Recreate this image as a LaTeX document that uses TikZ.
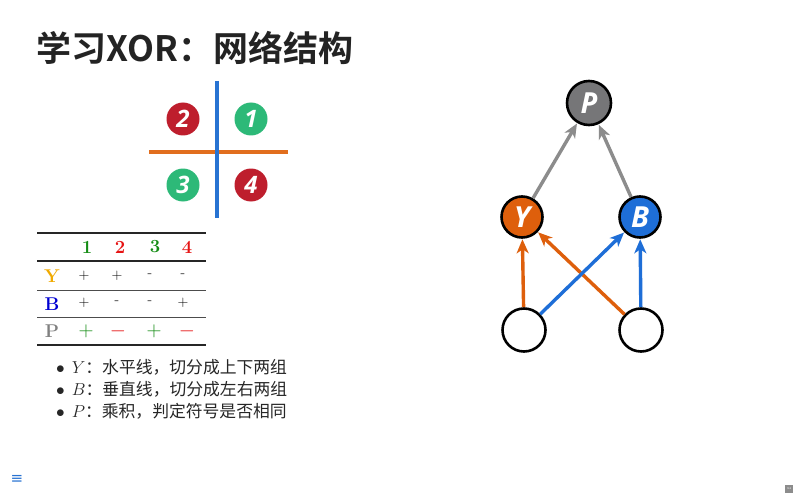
\documentclass[tikz,border=0pt]{standalone}
\usepackage{fontspec}
\usetikzlibrary{arrows.meta}
\newfontfamily\cjk{Noto Sans CJK SC}
\newfontfamily\cjkbold{Noto Sans CJK SC Bold}
\newfontfamily\circfont{Open Sans}
\newfontfamily\dejavu{DejaVu Sans}
\definecolor{quadRed}{RGB}{190,30,45}
\definecolor{quadGreen}{RGB}{45,185,120}
\definecolor{lineBlue}{RGB}{40,115,210}
\definecolor{lineOrange}{RGB}{225,110,30}
\definecolor{netOrange}{RGB}{222,95,12}
\definecolor{netBlue}{RGB}{30,110,215}
\definecolor{netGray}{RGB}{118,118,120}
\definecolor{arrGray}{RGB}{140,140,140}
\definecolor{tabGreen}{RGB}{20,140,20}
\definecolor{tabRed}{RGB}{230,20,20}
\definecolor{tabYellow}{RGB}{240,170,0}
\definecolor{tabBlue}{RGB}{0,0,210}
\definecolor{titleGray}{RGB}{35,35,35}
\begin{document}
\begin{tikzpicture}[x=1pt,y=-1pt,
  quad/.style={circle,minimum size=33pt,inner sep=0pt,text=white,font=\circfont\bfseries\itshape\fontsize{24}{24}\selectfont},
  neuron/.style={circle,draw=black,line width=2.6pt,minimum size=41pt,inner sep=0pt,text=white,font=\circfont\bfseries\itshape\fontsize{29}{29}\selectfont},
  cell/.style={inner sep=0pt,anchor=center},
  rulethick/.style={line width=2.4pt,black!85},
  rulethin/.style={line width=0.8pt,black!70},
  arr/.style={line width=3.4pt,-{Stealth[length=14pt,width=12pt,inset=4pt]},shorten >=0.5pt},
  bul/.style={anchor=west,inner sep=0pt,font=\cjk\fontsize{16.8}{16.8}\selectfont,text=black!85}
]
\useasboundingbox (0,0) rectangle (800,500);
\fill[white] (0,0) rectangle (800,500);

% title
\node[anchor=west,inner sep=0pt,text=titleGray,font=\cjkbold\fontsize{35}{35}\selectfont] (title) at (36,48) {学习XOR：网络结构};

% quadrant figure
\coordinate (vt) at (217,81);
\coordinate (vb) at (217,218);
\coordinate (hl) at (149,152);
\coordinate (hr) at (288,152);
\draw[lineOrange,line width=3.4pt] (hl) -- (hr);
\draw[lineBlue,line width=3.4pt] (vt) -- (vb);
\node[quad,fill=quadRed] (q2) at (183,119) {2};
\node[quad,fill=quadGreen] (q1) at (251,119) {1};
\node[quad,fill=quadGreen] (q3) at (183,185) {3};
\node[quad,fill=quadRed] (q4) at (251,185) {4};

% table
\draw[rulethick] (37,233) -- (206,233);
\draw[rulethick] (37,261) -- (206,261);
\draw[rulethin] (37,290) -- (206,290);
\draw[rulethin] (37,317) -- (206,317);
\draw[rulethick] (37,345) -- (206,345);
\begin{scope}[every node/.style={cell,font=\bfseries\fontsize{18.5}{18.5}\selectfont}]
\node[text=tabGreen] (h1) at (87,247) {1};
\node[text=tabRed] (h2) at (120,247) {2};
\node[text=tabGreen] (h3) at (155,247) {3};
\node[text=tabRed] (h4) at (187,247) {4};
\node[text=tabYellow] (rY) at (52,276) {Y};
\node[text=tabBlue] (rB) at (52,304) {B};
\node[text=gray] (rP) at (52,331) {P};
\end{scope}
\begin{scope}[every node/.style={cell,font=\fontsize{15}{15}\selectfont}]
\node (y1) at (84,276) {+};
\node (y2) at (117,276) {+};
\node (y3) at (150,276) {-};
\node (y4) at (183,276) {-};
\node (b1) at (84,303) {+};
\node (b2) at (117,303) {-};
\node (b3) at (150,303) {-};
\node (b4) at (183,303) {+};
\end{scope}
\begin{scope}[every node/.style={cell,font=\fontsize{22}{22}\selectfont}]
\node[text=tabGreen] (p1) at (86,331) {$+$};
\node[text=tabRed] (p2) at (118,331) {$-$};
\node[text=tabGreen] (p3) at (154,331) {$+$};
\node[text=tabRed] (p4) at (187,331) {$-$};
\end{scope}

% bullets
\node[bul] (l1) at (56,367) {$\bullet$\hspace{7pt}$Y$：水平线，切分成上下两组};
\node[bul] (l2) at (56,389) {$\bullet$\hspace{7pt}$B$：垂直线，切分成左右两组};
\node[bul] (l3) at (56,411) {$\bullet$\hspace{7pt}$P$：乘积，判定符号是否相同};

% network
\node[neuron,fill=netGray,minimum size=44pt] (P) at (589,103) {P};
\node[neuron,fill=netOrange] (Y) at (522,217) {Y};
\node[neuron,fill=netBlue] (B) at (640,217) {B};
\node[neuron,fill=white,minimum size=43pt] (x1) at (524,330) {};
\node[neuron,fill=white,minimum size=43pt] (x2) at (641,330) {};
\draw[arr,arrGray] (Y) -- (P);
\draw[arr,arrGray] (B) -- (P);
\draw[arr,netOrange] (x1) -- (Y);
\draw[arr,netOrange] (x2) -- (Y);
\draw[arr,netBlue] (x1) -- (B);
\draw[arr,netBlue] (x2) -- (B);

% footer
\node[inner sep=0pt,text=lineBlue,font=\dejavu\fontsize{15}{15}\selectfont] (menu) at (17,479) {≡};
\node[inner sep=1pt,fill=black!45,text=white,font=\fontsize{3}{3}\selectfont,minimum size=8pt] (pg) at (789,489) {34};
\end{tikzpicture}
\end{document}
